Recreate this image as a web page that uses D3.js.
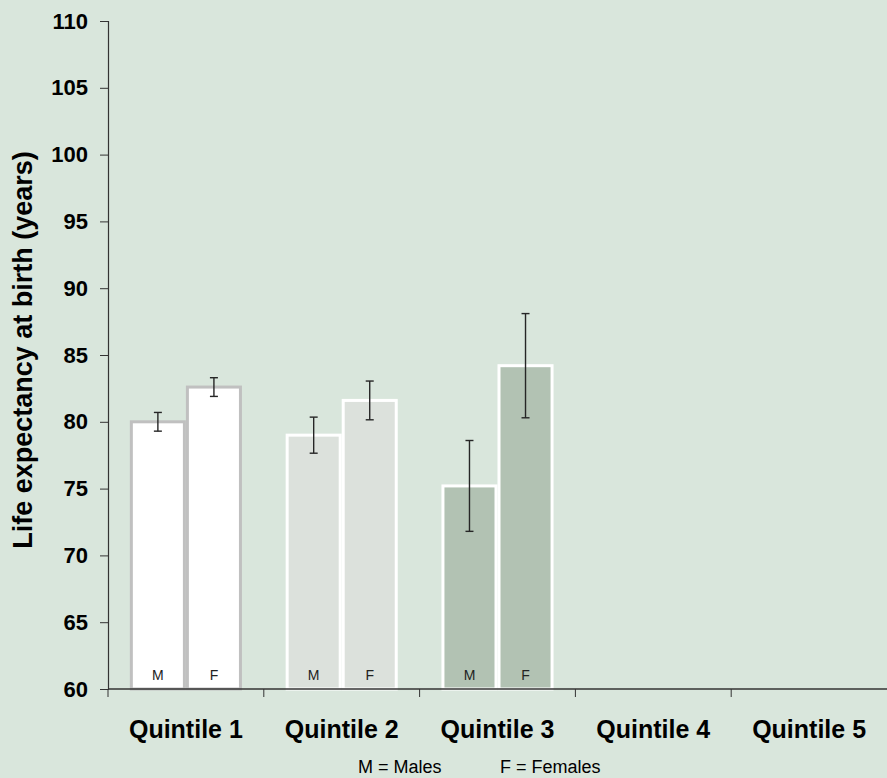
<!DOCTYPE html>
<html>
<head>
<meta charset="utf-8">
<script src="https://cdn.jsdelivr.net/npm/d3@7"></script>
<style>
  html, body { margin: 0; padding: 0; background: #d9e6dc; }
  svg { display: block; font-family: "Liberation Sans", Arial, sans-serif; }
</style>
</head>
<body>
<div class="canva"></div>
<script>
// chart data
const quintiles = ['Quintile 1', 'Quintile 2', 'Quintile 3', 'Quintile 4', 'Quintile 5'];
const sexes = ['M', 'F'];
const maleLE = [80.0, 79.0, 75.2, null, null];
const femaleLE = [82.6, 81.6, 84.2, null, null];
const maleErr = [0.7, 1.35, 3.4, null, null];
const femaleErr = [0.7, 1.45, 3.9, null, null];
const yTicks = [60, 65, 70, 75, 80, 85, 90, 95, 100, 105, 110];

// one style per quintile
const barFill = ['#ffffff', '#dce1dc', '#b2c2b3'];
const barStroke = ['#c0c0c0', '#ffffff', '#ffffff'];

const W = 887, H = 778;
const margin = {top: 21, right: 0, bottom: 89, left: 108};

const svg = d3.select('.canva').append('svg')
  .attr('width', W)
  .attr('height', H);

const x = d3.scaleBand()
  .domain(quintiles)
  .range([margin.left, W - margin.right]);

const xSex = d3.scaleBand()
  .domain(sexes)
  .range([0, x.bandwidth()])
  .paddingOuter(0.39);

const y = d3.scaleLinear()
  .domain([60, 110])
  .range([H - margin.bottom, margin.top]);

// rows built from the arrays
const rows = [];
quintiles.forEach((q, i) => {
  if (maleLE[i] != null) rows.push({q: q, qi: i, sex: 'M', v: maleLE[i], e: maleErr[i]});
  if (femaleLE[i] != null) rows.push({q: q, qi: i, sex: 'F', v: femaleLE[i], e: femaleErr[i]});
});

const sw = 3;
const bars = svg.append('g');
bars.selectAll('rect')
  .data(rows)
  .enter().append('rect')
    .attr('x', d => x(d.q) + xSex(d.sex) + sw / 2)
    .attr('width', xSex.bandwidth() - sw)
    .attr('y', d => y(d.v))
    .attr('height', d => y(60) - y(d.v))
    .attr('fill', d => barFill[d.qi])
    .attr('stroke', d => barStroke[d.qi])
    .attr('stroke-width', sw);

// M / F letters in the bars
bars.selectAll('text')
  .data(rows)
  .enter().append('text')
    .attr('x', d => x(d.q) + xSex(d.sex) + xSex.bandwidth() / 2)
    .attr('y', y(60) - 9)
    .attr('text-anchor', 'middle')
    .style('font-size', '14px')
    .style('fill', '#222')
    .text(d => d.sex);

// error bars
const err = svg.append('g')
  .attr('stroke', '#262626')
  .attr('stroke-width', 1.4);
rows.forEach(d => {
  const cx = x(d.q) + xSex(d.sex) + xSex.bandwidth() / 2;
  err.append('line')
    .attr('x1', cx).attr('x2', cx)
    .attr('y1', y(d.v + d.e)).attr('y2', y(d.v - d.e));
  [d.v + d.e, d.v - d.e].forEach(v => {
    err.append('line')
      .attr('x1', cx - 4).attr('x2', cx + 4)
      .attr('y1', y(v)).attr('y2', y(v));
  });
});

// y axis
const yAxis = svg.append('g')
  .attr('transform', `translate(${margin.left},0)`)
  .call(d3.axisLeft(y).tickValues(yTicks).tickSize(8).tickPadding(12));
yAxis.select('.domain').attr('stroke', '#333').attr('stroke-width', 1.2);
yAxis.selectAll('.tick line').attr('stroke', '#333');
yAxis.selectAll('.tick text')
  .style('font-size', '22px')
  .style('font-weight', 'bold')
  .style('font-family', '"Liberation Sans", Arial, sans-serif')
  .attr('fill', '#000');

// x axis, ticks at the band edges
const xAxis = svg.append('g')
  .attr('transform', `translate(0,${y(60)})`);
xAxis.append('line')
  .attr('x1', margin.left).attr('x2', W)
  .attr('stroke', '#333').attr('stroke-width', 1.4);
xAxis.selectAll('line.tk')
  .data(quintiles)
  .enter().append('line')
    .attr('class', 'tk')
    .attr('x1', d => x(d)).attr('x2', d => x(d))
    .attr('y1', 0).attr('y2', 8)
    .attr('stroke', '#333');
xAxis.selectAll('text')
  .data(quintiles)
  .enter().append('text')
    .attr('x', d => x(d) + x.bandwidth() / 2)
    .attr('y', 49)
    .attr('text-anchor', 'middle')
    .style('font-size', '25px')
    .style('font-weight', 'bold')
    .text(d => d);

// y title
svg.append('text')
  .attr('transform', `translate(32,${(y(110) + y(60)) / 2 - 5}) rotate(-90)`)
  .attr('text-anchor', 'middle')
  .style('font-size', '27px')
  .style('font-weight', 'bold')
  .text('Life expectancy at birth (years)');

// key
svg.append('text')
  .attr('x', 358).attr('y', 773)
  .style('font-size', '18px')
  .text('M = Males');
svg.append('text')
  .attr('x', 500).attr('y', 773)
  .style('font-size', '18px')
  .text('F = Females');
</script>
</body>
</html>
